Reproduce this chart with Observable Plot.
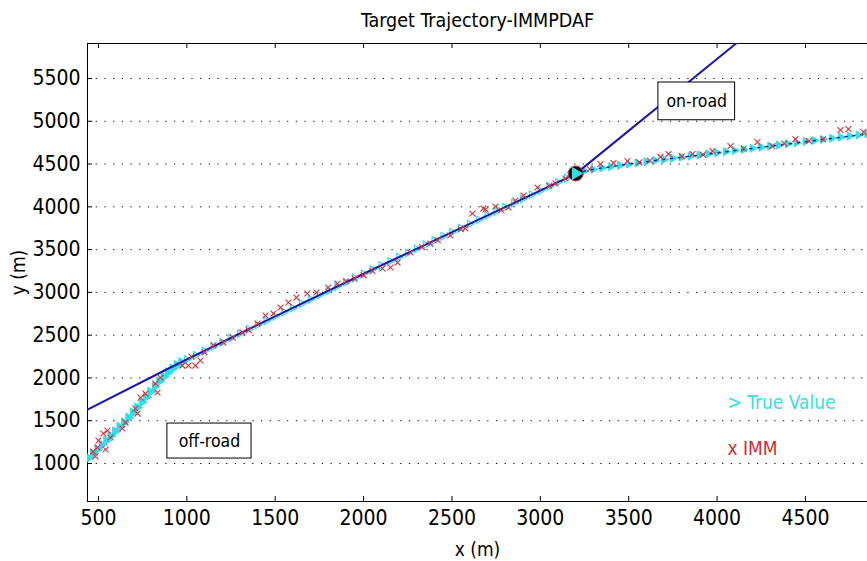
<!DOCTYPE html>
<html>
<head>
<meta charset="utf-8">
<script src="https://cdn.jsdelivr.net/npm/d3@7"></script>
<script src="https://cdn.jsdelivr.net/npm/@observablehq/plot@0.6"></script>
<style>
  body { margin: 0; background: #fff; }
  #chart { width: 867px; height: 561px; }
</style>
</head>
<body>
<div id="chart"></div>
<script>
// ---------- data ----------
const title = "Target Trajectory-IMMPDAF";
const xLabel = "x (m)";
const yLabel = "y (m)";
const xTicks = [500, 1000, 1500, 2000, 2500, 3000, 3500, 4000, 4500];
const yTicks = [1000, 1500, 2000, 2500, 3000, 3500, 4000, 4500, 5000, 5500];
const xDomain = [438, 4851];
const yDomain = [556, 5909];

// road (blue line)
const roadX = [438, 907, 1500, 2039, 2600, 3200, 4102, 4160];
const roadY = [1630, 2122, 2720, 3256, 3800, 4385, 5900, 5997];

// true trajectory: off-road part
const offTrueX = [445, 470, 495, 520, 545, 570, 595, 620, 645, 670, 695, 720, 745, 770, 795, 820, 845, 870, 895, 920, 945, 970];
const offTrueY = [1065, 1115, 1165, 1218, 1270, 1322, 1375, 1428, 1482, 1536, 1595, 1655, 1715, 1775, 1838, 1900, 1960, 2015, 2065, 2110, 2150, 2185];
// true trajectory: on the road
const mainTrueX = [1000, 1050, 1100, 1150, 1200, 1250, 1300, 1350, 1400, 1450, 1500, 1550, 1600, 1650, 1700, 1750, 1800, 1850, 1900, 1950, 2000, 2050, 2100, 2150, 2200, 2250, 2300, 2350, 2400, 2450, 2500, 2550, 2600, 2650, 2700, 2750, 2800, 2850, 2900, 2950, 3000, 3050, 3100, 3150, 3200];
const mainTrueY = [2216, 2266, 2316, 2367, 2417, 2468, 2518, 2569, 2619, 2670, 2720, 2770, 2819, 2869, 2919, 2969, 3018, 3068, 3118, 3168, 3217, 3267, 3315, 3364, 3412, 3461, 3509, 3558, 3606, 3655, 3703, 3752, 3800, 3849, 3898, 3946, 3995, 4044, 4093, 4141, 4190, 4239, 4288, 4336, 4385];
// true trajectory: branch after the junction
const rightTrueX = [3200, 3250, 3300, 3350, 3400, 3450, 3500, 3550, 3600, 3650, 3700, 3750, 3800, 3850, 3900, 3950, 4000, 4050, 4100, 4150, 4200, 4250, 4300, 4350, 4400, 4450, 4500, 4550, 4600, 4650, 4700, 4750, 4800, 4850, 4880];
const rightTrueY = [4390, 4418, 4438, 4455, 4470, 4485, 4500, 4514, 4528, 4541, 4554, 4567, 4580, 4593, 4606, 4619, 4632, 4645, 4658, 4671, 4684, 4697, 4710, 4723, 4736, 4749, 4762, 4775, 4788, 4801, 4814, 4827, 4840, 4853, 4861];

// IMM estimates (red x)
const immX = [470, 483, 494, 500, 528, 540, 551, 568, 636, 653, 709, 721, 738, 766, 822, 834, 851, 975, 1009, 1026, 1049, 1077,
  1100, 1150, 1207, 1260, 1315, 1350, 1400, 1445, 1490, 1530, 1575, 1620, 1682, 1733, 1801, 1852, 1900, 1950, 2000, 2050,
  2107, 2152, 2192, 2265, 2330, 2378, 2420, 2491, 2550, 2576, 2616, 2678, 2690, 2746, 2780, 2820, 2859, 2905, 2984, 3050, 3086, 3142, 3170,
  3210, 3280, 3340, 3414, 3493, 3560, 3620, 3680, 3725, 3800, 3861, 3920, 3974, 4076, 4150, 4228, 4313, 4380, 4443, 4520, 4600, 4698, 4743, 4828];
const immY = [1140, 1082, 1187, 1269, 1351, 1164, 1386, 1304, 1409, 1479, 1643, 1584, 1770, 1818, 1935, 1830, 2005, 2145, 2145, 2250, 2145, 2204,
  2300, 2380, 2414, 2470, 2531, 2560, 2636, 2730, 2753, 2823, 2882, 2940, 2987, 2999, 3057, 3104, 3130, 3160, 3200, 3250,
  3279, 3291, 3349, 3466, 3530, 3571, 3610, 3665, 3740, 3747, 3922, 3980, 3969, 4004, 3960, 3992, 4074, 4132, 4226, 4245, 4273, 4331, 4370,
  4400, 4440, 4500, 4512, 4535, 4520, 4540, 4583, 4617, 4590, 4617, 4610, 4652, 4710, 4680, 4757, 4710, 4740, 4792, 4770, 4790, 4897, 4909, 4874];

// junction marker
const junctionX = [3200];
const junctionY = [4390];

// boxed annotations
const boxLabels = ["on-road", "off-road"];
const boxX1 = [3668, 890];
const boxX2 = [4102, 1366];
const boxY1 = [5012, 1058];
const boxY2 = [5453, 1467];

// in-plot legend texts
const legendLabels = ["> True Value", "x IMM"];
const legendX = [4059, 4059];
const legendY = [1713, 1175];
const legendColors = ["#35dfe3", "#d42a33"];

// ---------- build tables ----------
const zip = (xs, ys) => xs.map((x, i) => ({x, y: ys[i]}));
const road = zip(roadX, roadY);
const offTrue = zip(offTrueX, offTrueY);
const mainTrue = zip(mainTrueX, mainTrueY);
const rightTrue = zip(rightTrueX, rightTrueY);
const imm = zip(immX, immY);
const junction = zip(junctionX, junctionY);
const boxes = boxLabels.map((label, i) => ({label, x1: boxX1[i], x2: boxX2[i], y1: boxY1[i], y2: boxY2[i]}));
const legend = legendLabels.map((label, i) => ({label, x: legendX[i], y: legendY[i], color: legendColors[i]}));

const CYAN = "#2fe0e6";
const RED = "#d8343c";
const BLUE = "#1616b4";
const FONT = "'Liberation Sans Narrow', 'DejaVu Sans Condensed', 'Arial Narrow', sans-serif";

const W = 867, H = 561, ML = 87, MR = 0, MT = 43, MB = 60;
const innerW = W - ML - MR, innerH = H - MT - MB, TICK = 5;

const chart = Plot.plot({
  width: W,
  height: H,
  marginLeft: ML,
  marginRight: MR,
  marginTop: MT,
  marginBottom: MB,
  style: {fontFamily: FONT, fontSize: "21px", background: "white", color: "black", overflow: "visible"},
  x: {domain: xDomain, ticks: xTicks, tickFormat: d3.format("d")},
  y: {domain: yDomain, ticks: yTicks, tickFormat: d3.format("d")},
  marks: [
    Plot.gridY(yTicks, {stroke: "#000", strokeOpacity: 1, strokeDasharray: "1.2,7.5"}),
    Plot.axisX(xTicks, {anchor: "bottom", tickSize: 0, tickPadding: 9, fontSize: 21, tickFormat: d3.format("d"), label: null}),
    Plot.axisY(yTicks, {anchor: "left", tickSize: 0, tickPadding: 7, fontSize: 21, tickFormat: d3.format("d"), label: null}),
    Plot.axisX({anchor: "bottom", ticks: [], label: xLabel, labelAnchor: "center", labelOffset: 54, labelArrow: "none", fontSize: 19}),
    Plot.axisY({anchor: "left", ticks: [], label: yLabel, labelAnchor: "center", labelOffset: 76, labelArrow: "none", fontSize: 19}),
    // inward ticks
    Plot.tickX(xTicks, {x: d => d, insetTop: innerH - TICK, stroke: "black"}),
    Plot.tickX(xTicks, {x: d => d, insetBottom: innerH - TICK, stroke: "black"}),
    Plot.tickY(yTicks, {y: d => d, insetRight: innerW - TICK, stroke: "black"}),
    Plot.frame({anchor: "left"}),
    Plot.frame({anchor: "bottom"}),
    Plot.frame({anchor: "top"}),
    // true values
    Plot.dot(offTrue, {x: "x", y: "y", symbol: "triangle", rotate: 90, r: 3.4, fill: CYAN, stroke: CYAN, strokeWidth: 1, clip: true}),
    Plot.dot(mainTrue, {x: "x", y: "y", symbol: "triangle", rotate: 90, r: 2.8, fill: "none", stroke: CYAN, strokeWidth: 1.2, clip: true}),
    Plot.dot(rightTrue, {x: "x", y: "y", symbol: "triangle", rotate: 90, r: 3, fill: CYAN, stroke: CYAN, strokeWidth: 1, clip: true}),
    // road
    Plot.line(road, {x: "x", y: "y", stroke: BLUE, strokeWidth: 2, clip: true}),
    Plot.line(rightTrue, {x: "x", y: "y", stroke: BLUE, strokeWidth: 1.5, strokeDasharray: "2,6", clip: true}),
    // IMM
    Plot.dot(imm, {x: "x", y: "y", symbol: "times", r: 2.8, stroke: RED, strokeWidth: 1.1, clip: true}),
    // junction
    Plot.dot(junction, {x: "x", y: "y", r: 7.5, fill: "black", stroke: RED, strokeWidth: 1}),
    Plot.dot(junction, {x: "x", y: "y", symbol: "triangle", rotate: 90, r: 4, fill: CYAN, stroke: CYAN}),
    // boxes
    Plot.rect(boxes, {x1: "x1", x2: "x2", y1: "y1", y2: "y2", fill: "white", stroke: "black", strokeWidth: 1}),
    Plot.text(boxes, {x: d => (d.x1 + d.x2) / 2, y: d => (d.y1 + d.y2) / 2, text: "label", fontSize: 17.5, fill: "black"}),
    // legend texts
    Plot.text(legend, {x: "x", y: "y", text: "label", fill: "color", textAnchor: "start", fontSize: 19}),
    // title
    Plot.text([title], {text: d => d, frameAnchor: "top", dy: -23, lineAnchor: "middle", fontSize: 19.5, fill: "black"})
  ]
});
document.getElementById("chart").appendChild(chart);
</script>
</body>
</html>
